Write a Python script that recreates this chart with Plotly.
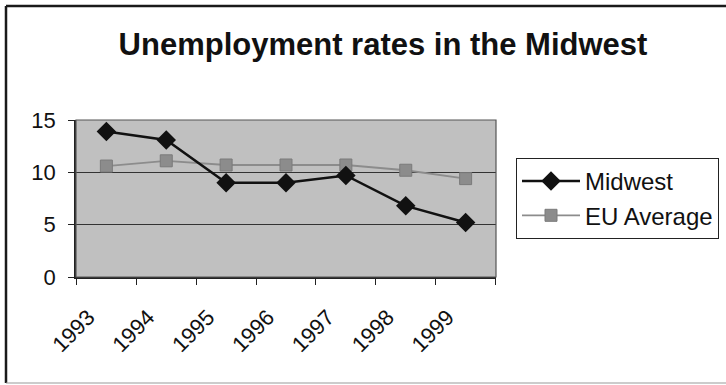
import plotly.graph_objects as go

# Unemployment rates (%) by year
years = ["1993", "1994", "1995", "1996", "1997", "1998", "1999"]
midwest = [13.9, 13.1, 9.0, 9.0, 9.7, 6.8, 5.2]
eu_average = [10.6, 11.1, 10.7, 10.7, 10.7, 10.2, 9.4]
y_ticks = [0, 5, 10, 15]

FONT = "Liberation Sans, Arial, sans-serif"

# Plot area in pixels
L, R, T, B = 76, 496, 120, 277
W, H = 726, 385


def px_x(p):
    return (p - L) / (R - L)


def px_y(p):
    return (B - p) / (B - T)


fig = go.Figure()

fig.add_trace(go.Scatter(
    x=years, y=eu_average, name="EU Average", mode="lines+markers",
    line=dict(color="#8c8c8c", width=1.8),
    marker=dict(symbol="square", size=12, color="#8c8c8c",
                line=dict(color="#7a7a7a", width=1)),
))
fig.add_trace(go.Scatter(
    x=years, y=midwest, name="Midwest", mode="lines+markers",
    line=dict(color="#111111", width=2.5),
    marker=dict(symbol="diamond", size=15, color="#111111"),
))

fig.update_layout(
    width=W, height=H,
    margin=dict(l=L, r=W - R, t=T, b=H - B, autoexpand=False),
    paper_bgcolor="white",
    plot_bgcolor="#c0c0c0",
    title=dict(
        text="<b>Unemployment rates in the Midwest</b>",
        x=383 / W, xanchor="center", xref="container",
        y=1 - 44 / H, yanchor="middle", yref="container",
        font=dict(family=FONT, size=31, color="#111111"),
    ),
    showlegend=True,
    legend=dict(
        x=516 / W, xanchor="left", xref="container",
        y=1 - 158 / H, yanchor="top", yref="container",
        traceorder="reversed",
        bordercolor="#222222", borderwidth=1,
        bgcolor="white",
        font=dict(family=FONT, size=24, color="#111111"),
        itemwidth=58,
        tracegroupgap=0,
    ),
    font=dict(family=FONT, size=21, color="#111111"),
)

fig.update_xaxes(
    type="category",
    categoryorder="array", categoryarray=years,
    tickangle=-45,
    tickson="boundaries",
    ticks="outside", ticklen=6, tickcolor="#222222",
    ticklabelstandoff=17,
    ticklabelshift=-18,
    showgrid=False,
    showline=True, linecolor="#222222", linewidth=1.5,
    tickfont=dict(family=FONT, size=22, color="#111111"),
)
fig.update_yaxes(
    range=[0, 15],
    tickvals=y_ticks,
    ticks="outside", ticklen=6, tickcolor="#222222",
    ticklabelstandoff=8,
    showgrid=True, gridcolor="#333333", gridwidth=1.3,
    zeroline=False,
    showline=True, linecolor="#222222", linewidth=1.5,
    tickfont=dict(family=FONT, size=22, color="#111111"),
)

# Plot-area frame
fig.add_shape(type="rect", xref="paper", yref="paper", x0=0, x1=1, y0=0, y1=1,
              line=dict(color="#555555", width=1.2), layer="above")

# Outer chart border: left, top and bottom edges (right edge runs off the page)
for x0, y0, x1, y1, w, c in [
    (6, 6, 6, 383, 2.5, "#1a1a1a"),
    (6, 6, W, 6, 2.5, "#1a1a1a"),
    (6, 383, W, 383, 1.2, "#9a9a9a"),
]:
    fig.add_shape(type="line", xref="paper", yref="paper",
                  x0=px_x(x0), x1=px_x(x1), y0=px_y(y0), y1=px_y(y1),
                  line=dict(color=c, width=w), layer="below")

fig.write_html("out.html")
